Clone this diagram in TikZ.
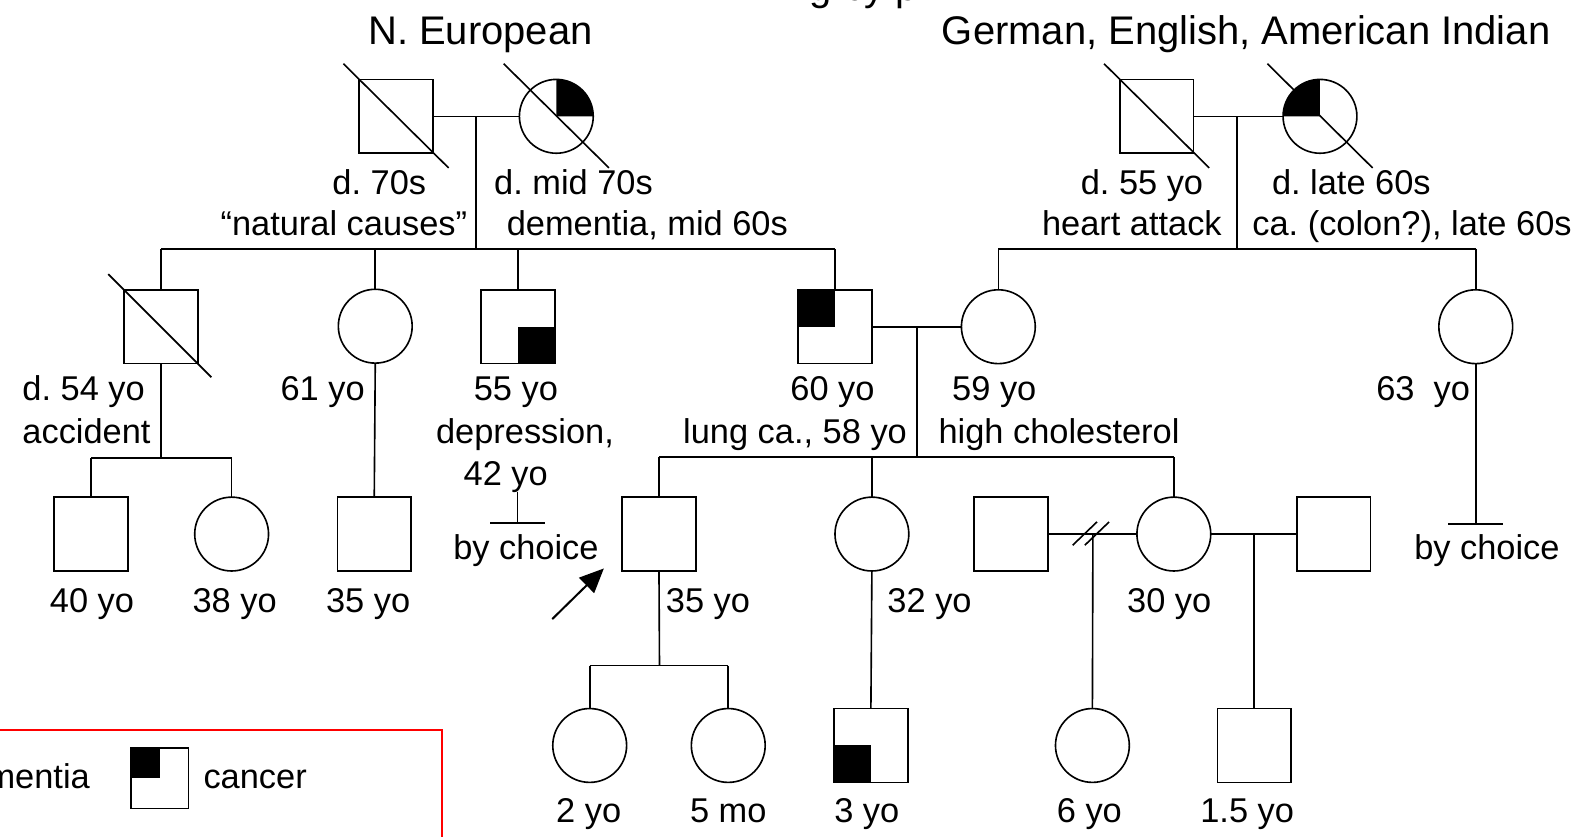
\documentclass[tikz,border=0pt]{standalone}
\usepackage{fontspec}
\setmainfont{Liberation Sans}
\usetikzlibrary{arrows.meta}
\frenchspacing
\begin{document}
\begin{tikzpicture}[x=1pt,y=-1pt,
  conn/.style={line width=1.6pt},
  male/.style={draw, line width=1.6pt, rectangle, minimum size=73pt, inner sep=0pt, outer sep=0pt},
  female/.style={draw, line width=1.6pt, circle, minimum size=73pt, inner sep=0pt, outer sep=0pt},
  lbl/.style={font=\fontsize{34}{40}\selectfont, inner sep=0pt, anchor=base},
  ttl/.style={font=\fontsize{39.5}{46}\selectfont, inner sep=0pt, anchor=base},
]
\useasboundingbox (0,0) rectangle (1568,827);
\clip (0,0) rectangle (1568,827);

% cut-off title fragment
\node[ttl, anchor=base west] (title) at (800,0.5) {g by p};

% ---------- Generation I ----------
\node[male]   (gf1) at (391.5,115) {};
\node[female] (gm1) at (550,115) {};
\node[male]   (gf2) at (1143.5,115) {};
\node[female] (gm2) at (1305,115) {};
\fill (gm1.center) -- ++(0,-36.5) arc[start angle=90, end angle=0, radius=36.5pt] -- cycle;
\fill (gm2.center) -- ++(0,-36.5) arc[start angle=90, end angle=180, radius=36.5pt] -- cycle;
\foreach \n in {gf1,gm1,gf2,gm2}{
  \draw[conn] ([shift={(-52,-52)}]\n.center) -- ([shift={(52,51)}]\n.center);
}

% ---------- Generation II ----------
\node[male]   (u1) at (159,323) {};
\node[female] (a1) at (371,322.5) {};
\node[male]   (u2) at (512,323) {};
\node[male]   (fa) at (825.5,323) {};
\node[female] (mo) at (987,323) {};
\node[female] (a2) at (1459,323) {};
\fill (u2.center) rectangle (u2.south east);
\fill (fa.north west) rectangle (fa.center);
\draw[conn] ([shift={(-52,-52)}]u1.center) -- ([shift={(50,50)}]u1.center);

% ---------- Generation III ----------
\node[male]   (c1) at (90,528) {};
\node[female] (c2) at (229,528) {};
\node[male]   (c3) at (370,528) {};
\node[male]   (pb) at (651.5,528) {};
\node[female] (s1) at (862,528) {};
\node[male]   (x1) at (999.5,528) {};
\node[female] (s2) at (1160.5,528) {};
\node[male]   (x2) at (1318.5,528) {};

% ---------- Generation IV ----------
\node[female] (g1) at (583,737) {};
\node[female] (g2) at (720,737) {};
\node[male]   (g3) at (861,737) {};
\node[female] (g4) at (1080,737) {};
\node[male]   (g5) at (1240,737) {};
\fill (g3.south west) rectangle (g3.center);

% ---------- connectors ----------
% paternal grandparents
\coordinate (j1) at (470.5,115);
\coordinate (k1) at (470.5,246);
\draw[conn] (gf1.east) -- (gm1.west);
\draw[conn] (j1) -- (k1);
\draw[conn] (u1.north |- k1) -- (fa.north |- k1);
\foreach \n in {u1,a1,u2,fa}{ \draw[conn] (\n.north |- k1) -- (\n.north); }

% maternal grandparents
\coordinate (j2) at (1223,115);
\coordinate (k2) at (1223,246);
\draw[conn] (gf2.east) -- (gm2.west);
\draw[conn] (j2) -- (k2);
\draw[conn] (mo.north |- k2) -- (a2.north |- k2);
\foreach \n in {mo,a2}{ \draw[conn] (\n.north |- k2) -- (\n.north); }

% uncle 1 children
\coordinate (k3) at (159,453);
\draw[conn] (u1.south) -- (k3);
\draw[conn] (c1.north |- k3) -- (c2.north |- k3);
\foreach \n in {c1,c2}{ \draw[conn] (\n.north |- k3) -- (\n.north); }
% aunt 1 child
\draw[conn] (a1.south) -- (c3.north);

% uncle 2 no children by choice
\coordinate (n1a) at (511.5,486);
\coordinate (n1b) at (511.5,517);
\draw[conn] (n1a) -- (n1b);
\draw[conn] ([xshift=-27pt]n1b) -- ([xshift=27pt]n1b);
% aunt 2 no children by choice
\coordinate (n2b) at (1459,518);
\draw[conn] (a2.south) -- (n2b);
\draw[conn] ([xshift=-27pt]n2b) -- ([xshift=27pt]n2b);

% parents
\coordinate (j3) at (906.5,323);
\coordinate (k4) at (906.5,452);
\draw[conn] (fa.east) -- (mo.west);
\draw[conn] (j3) -- (k4);
\draw[conn] (pb.north |- k4) -- (s2.north |- k4);
\foreach \n in {pb,s1,s2}{ \draw[conn] (\n.north |- k4) -- (\n.north); }

% proband children
\coordinate (k5) at (652,658);
\draw[conn] (pb.south) -- (k5);
\draw[conn] (g1.north |- k5) -- (g2.north |- k5);
\foreach \n in {g1,g2}{ \draw[conn] (\n.north |- k5) -- (\n.north); }

% sister 1 child
\draw[conn] (s1.south) -- (g3.north);

% sister 2 divorced union
\coordinate (j6) at (1080.5,528);
\draw[conn] (x1.east) -- (s2.west);
\draw[conn] ([shift={(-20,11)}]j6) -- ([shift={(4,-12)}]j6);
\draw[conn] ([shift={(-8,11)}]j6) -- ([shift={(16,-12)}]j6);
\draw[conn] (j6) -- (g4.north);
% sister 2 current union
\coordinate (j7) at (1240,528);
\draw[conn] (s2.east) -- (x2.west);
\draw[conn] (j7) -- (g5.north);

% proband arrow
\coordinate (ar0) at (546,612);
\coordinate (ar1) at (597,562);
\draw[line width=2pt, -{Triangle[length=24pt,width=21pt]}] (ar0) -- (ar1);

% ---------- labels ----------
\node[ttl] (t1) at (475,44) {N. European};
\node[ttl] (t2) at (1232,44) {German, English, American Indian};

\node[lbl] at (375,192) {d. 70s};
\node[lbl] at (567,192) {d. mid 70s};
\node[lbl] at (1129,192) {d. 55 yo};
\node[lbl] at (1336,192) {d. late 60s};
\node[lbl] at (340,233) {“natural causes”};
\node[lbl] at (640,233) {dementia, mid 60s};
\node[lbl] at (1119,233) {heart attack};
\node[lbl] at (1396,233) {ca. (colon?), late 60s};

\node[lbl, anchor=base west] at (22,396) {d. 54 yo};
\node[lbl] at (319,396) {61 yo};
\node[lbl] at (510,396) {55 yo};
\node[lbl] at (823,396) {60 yo};
\node[lbl] at (983,396) {59 yo};
\node[lbl] at (1407,396) {63\ \ yo};
\node[lbl, anchor=base west] at (22,438) {accident};
\node[lbl] at (519,438) {depression,};
\node[lbl] at (786,438) {lung ca., 58 yo};
\node[lbl] at (1047,438) {high cholesterol};
\node[lbl] at (500,480) {42 yo};
\node[lbl] at (520,553) {by choice};
\node[lbl] at (1470,553) {by choice};

\node[lbl] at (91,606) {40 yo};
\node[lbl] at (232,606) {38 yo};
\node[lbl] at (364,606) {35 yo};
\node[lbl] at (700,606) {35 yo};
\node[lbl] at (919,606) {32 yo};
\node[lbl] at (1156,606) {30 yo};

\node[lbl] at (582,813) {2 yo};
\node[lbl] at (720,813) {5 mo};
\node[lbl] at (857,813) {3 yo};
\node[lbl] at (1077,813) {6 yo};
\node[lbl] at (1233,813) {1.5 yo};

% ---------- legend ----------
\draw[red, line width=1.6pt] (-200,722) rectangle (437,900);
\node[lbl, anchor=base east] (ldem) at (89,780) {dementia};
\node[draw, line width=1.6pt, rectangle, minimum width=57pt, minimum height=60pt, inner sep=0pt, outer sep=0pt] (lcan) at (158,769.5) {};
\fill (lcan.north west) rectangle (lcan.center);
\node[lbl, anchor=base west] (lcantxt) at (201,780) {cancer};
\end{tikzpicture}
\end{document}
